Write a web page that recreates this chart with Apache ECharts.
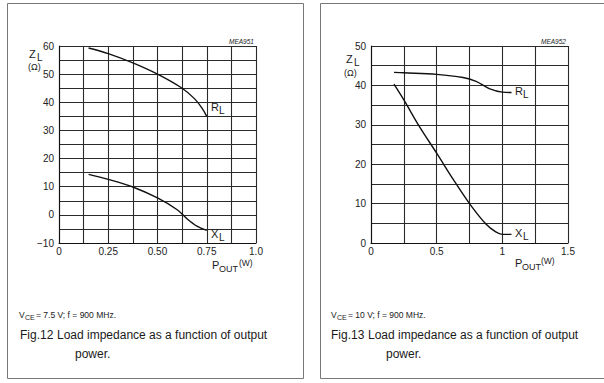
<!DOCTYPE html>
<html><head><meta charset="utf-8">
<script src="https://cdn.jsdelivr.net/npm/echarts@6/dist/echarts.min.js"></script>
<style>html,body{margin:0;padding:0;background:#fff;}#c{width:604px;height:383px;}</style>
</head><body><div id="c"></div>
<script>
// Fig.12 (VCE = 7.5 V)
const fig12_RL_x = [0.15, 0.25, 0.375, 0.5, 0.625, 0.6875, 0.725, 0.75];
const fig12_RL_y = [59.3, 57.3, 54.0, 50.0, 45.0, 41.3, 38.0, 35.0];
const fig12_XL_x = [0.15, 0.25, 0.375, 0.5, 0.6, 0.65, 0.7, 0.75];
const fig12_XL_y = [14.4, 12.6, 9.9, 6.0, 1.8, -1.4, -4.0, -5.5];
// Fig.13 (VCE = 10 V)
const fig13_RL_x = [0.175, 0.25, 0.5, 0.7, 0.8, 0.9, 1.0, 1.07];
const fig13_RL_y = [43.3, 43.2, 42.8, 42.0, 41.0, 39.2, 38.3, 38.2];
const fig13_XL_x = [0.175, 0.25, 0.375, 0.5, 0.625, 0.75, 0.875, 0.95, 1.0, 1.07];
const fig13_XL_y = [40.3, 36.3, 29.2, 22.8, 16.2, 10.0, 4.8, 2.8, 2.2, 2.2];
// tick labels
const fig12_xTicks = {0: '0', 250: '0.25', 500: '0.50', 750: '0.75', 1000: '1.0'};
const fig12_yTicks = {60: '60', 50: '50', 40: '40', 30: '30', 20: '20', 10: '10', 0: '0', '-10': '\u221210'};
const fig13_xTicks = {0: '0', 500: '0.5', 1000: '1', 1500: '1.5'};
const fig13_yTicks = {50: '50', 40: '40', 30: '30', 20: '20', 10: '10', 0: '0'};

const FONT = 'Liberation Sans, Arial, sans-serif';
const pairs = (xs, ys) => xs.map((x, i) => [x, ys[i]]);
const gridLine = {show: true, lineStyle: {color: '#2a2a2a', width: 1.1}};
function xAxis(idx, max, interval, ticks) {
  return {type: 'value', gridIndex: idx, min: 0, max: max, interval: interval,
    axisLine: {show: true, onZero: false, lineStyle: {color: '#111', width: 1.1}},
    axisTick: {show: false}, splitLine: gridLine,
    axisLabel: {margin: 3, color: '#222', fontSize: 10, fontFamily: FONT,
      formatter: v => { const k = Math.round(v * 1000); return ticks[k] !== undefined ? ticks[k] : ''; }}};
}
function yAxis(idx, min, max, ticks) {
  return {type: 'value', gridIndex: idx, min: min, max: max, interval: 5,
    axisLine: {show: true, onZero: false, lineStyle: {color: '#111', width: 1.1}},
    axisTick: {show: false}, splitLine: gridLine,
    axisLabel: {margin: 5, color: '#222', fontSize: 10, fontFamily: FONT,
      formatter: v => { const k = Math.round(v); return ticks[k] !== undefined ? ticks[k] : ''; }}};
}
function curve(idx, xs, ys) {
  return {type: 'line', xAxisIndex: idx, yAxisIndex: idx, data: pairs(xs, ys), smooth: 0.35,
    showSymbol: false, symbol: 'none', silent: true,
    lineStyle: {color: '#111', width: 1.4}};
}
function t(x, y, text, size, extra) {
  return Object.assign({type: 'text', x: x, y: y, silent: true,
    style: Object.assign({text: text, font: size + 'px ' + FONT, fill: '#1a1a1a', verticalAlign: 'middle', align: 'left'}, extra || {})});
}
const chart = echarts.init(document.getElementById('c'), null, {renderer: 'svg'});
chart.setOption({
  backgroundColor: '#fff',
  animation: false,
  grid: [
    {left: 59, top: 46, width: 197, height: 197, containLabel: false},
    {left: 371, top: 46, width: 197, height: 197, containLabel: false}
  ],
  xAxis: [xAxis(0, 1, 0.125, fig12_xTicks), xAxis(1, 1.5, 0.25, fig13_xTicks)],
  yAxis: [yAxis(0, -10, 60, fig12_yTicks), yAxis(1, 0, 50, fig13_yTicks)],
  series: [
    curve(0, fig12_RL_x, fig12_RL_y), curve(0, fig12_XL_x, fig12_XL_y),
    curve(1, fig13_RL_x, fig13_RL_y), curve(1, fig13_XL_x, fig13_XL_y)
  ],
  graphic: [
    {type: 'rect', shape: {x: 7.5, y: 3.5, width: 296, height: 375}, style: {fill: 'none', stroke: '#777', lineWidth: 1}, silent: true},
    {type: 'rect', shape: {x: 320.5, y: 3.5, width: 300, height: 375}, style: {fill: 'none', stroke: '#777', lineWidth: 1}, silent: true},
    // Fig.12 texts
    t(229, 41, 'MEA951', 6.5, {font: 'italic 6.5px ' + FONT}),
    t(29, 54, 'Z', 11), t(37, 57, 'L', 10),
    t(28, 67, '(\u03A9)', 9),
    t(211, 107, 'R', 11), t(219, 110, 'L', 10),
    t(211, 234, 'X', 11), t(219, 237, 'L', 10),
    t(212, 265, 'P', 11), t(219, 269, 'OUT', 9), t(239, 263, '(W)', 8.5),
    t(19, 315, 'V', 8.5), t(25, 317, 'CE', 7), t(36, 315, '= 7.5 V; f = 900 MHz.', 8.5),
    t(20, 335, 'Fig.12', 12), t(57, 335, 'Load impedance as a function of output', 12),
    t(75, 354, 'power.', 12),
    // Fig.13 texts
    t(541, 41, 'MEA952', 6.5, {font: 'italic 6.5px ' + FONT}),
    t(346, 59, 'Z', 11), t(354, 62, 'L', 10),
    t(344, 73, '(\u03A9)', 9),
    t(515, 91, 'R', 11), t(523, 94, 'L', 10),
    t(515, 233, 'X', 11), t(523, 236, 'L', 10),
    t(515, 263, 'P', 11), t(522, 267, 'OUT', 9), t(541, 261, '(W)', 8.5),
    t(331, 315, 'V', 8.5), t(337, 317, 'CE', 7), t(348, 315, '= 10 V; f = 900 MHz.', 8.5),
    t(331, 335, 'Fig.13', 12), t(368, 335, 'Load impedance as a function of output', 12),
    t(386, 354, 'power.', 12)
  ]
});
</script></body></html>
